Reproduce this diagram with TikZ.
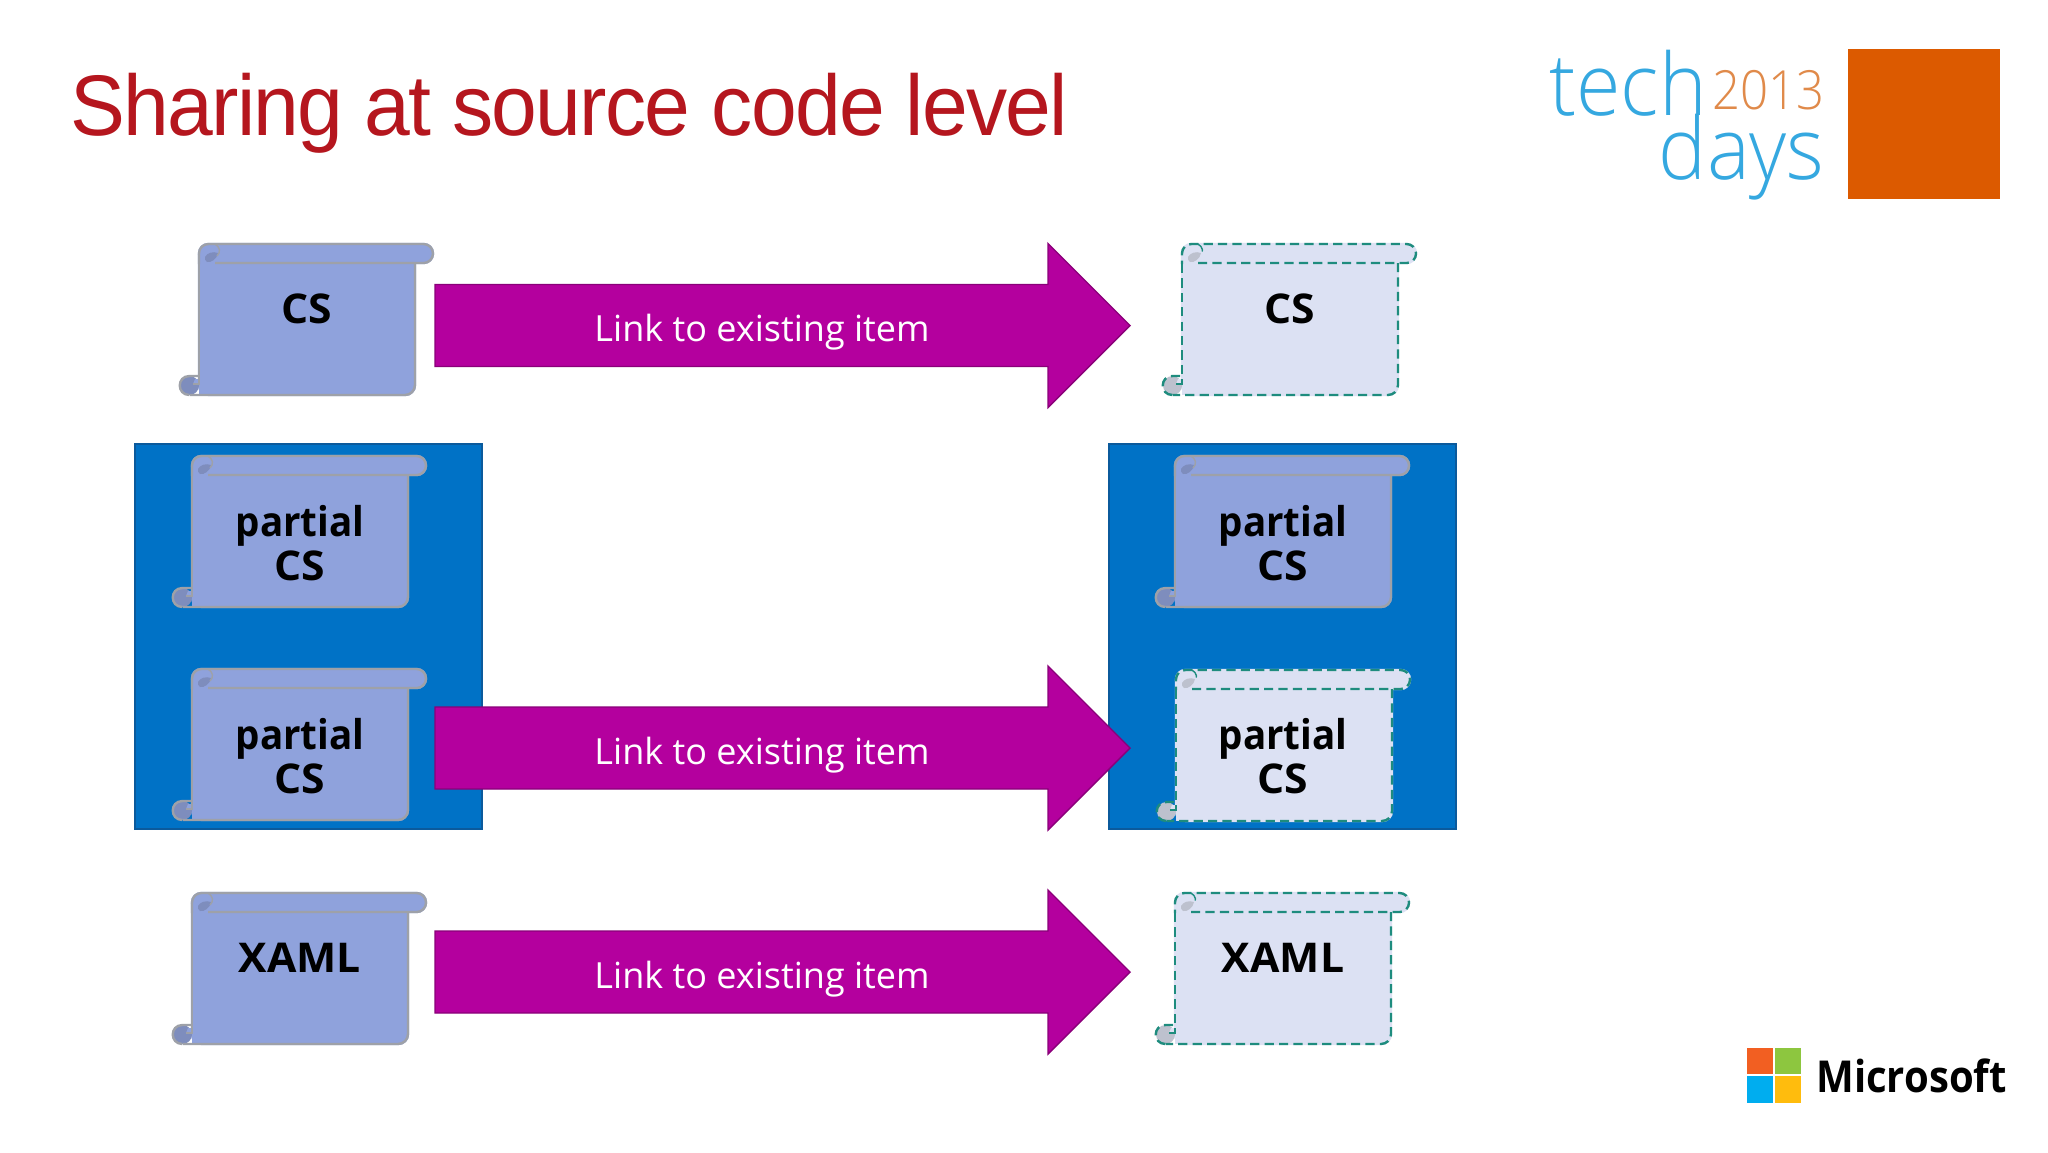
\documentclass[tikz,border=0pt]{standalone}
\usepackage{fontspec}
\setmainfont{Open Sans}
\newfontfamily\titlef[LetterSpace=-2,FakeStretch=.956]{Liberation Sans}
\newfontfamily\techf[FakeStretch=.94]{Open Sans Light}
\newfontfamily\yearf[FakeStretch=.91]{Open Sans Light}
\newfontfamily\semif[FakeStretch=.91]{Open Sans}
\newfontfamily\capsf[FakeStretch=1.04]{Open Sans}
\newfontfamily\partf[FakeStretch=.94]{Open Sans}
\newcommand{\partialword}{{\partf\bfseries partial}}
\definecolor{panelblue}{HTML}{0072C6}
\definecolor{panelline}{HTML}{0B5A9C}
\definecolor{arrowfill}{HTML}{B4009E}
\definecolor{arrowline}{HTML}{8A0079}
\definecolor{scrollsolid}{HTML}{8FA2DC}
\definecolor{scrolllight}{HTML}{DCE1F3}
\definecolor{curlsolid}{HTML}{7E8DBD}
\definecolor{curllight}{HTML}{BDC1CE}
\definecolor{edgegrey}{HTML}{9EA1A8}
\definecolor{edgeteal}{HTML}{1E8C7E}
\definecolor{titlered}{HTML}{B5161E}
\definecolor{techblue}{HTML}{35A8E0}
\definecolor{techorange}{HTML}{E08A4A}
\definecolor{logoorange}{HTML}{DC5A00}
\definecolor{msred}{HTML}{F25F22}
\definecolor{msgreen}{HTML}{8DC63F}
\definecolor{msblue}{HTML}{00ADEF}
\definecolor{msyellow}{HTML}{FFBC0D}
\tikzset{
  x=0.5pt,y=-0.5pt,
  panel/.style={draw=panelline,fill=panelblue,line width=1pt},
  bigarrow/.style={draw=arrowline,fill=arrowfill,line width=.7pt},
  arrowtext/.style={text=white,font=\fontsize{18}{22}\selectfont,anchor=center,inner sep=0pt},
  scrolltext/.style={text=black,font=\fontsize{20.5}{22}\selectfont\capsf\bfseries,align=center,inner sep=0pt,anchor=center},
  solidscroll/.style={/utils/exec={\colorlet{scrollbase}{scrollsolid}\colorlet{scrolledge}{edgegrey}\colorlet{scrollcurl}{curlsolid}},solid},
  copyscroll/.style={/utils/exec={\colorlet{scrollbase}{scrolllight}\colorlet{scrolledge}{edgeteal}\colorlet{scrollcurl}{curllight}},dash pattern=on 4.6pt off 2.6pt},
  scrollline/.style={scrolledge,line width=1.2pt},
  scrollart/.pic={
    \fill[scrollbase,rounded corners=5pt] (0,10) -- (0,151) -- (216,151) -- (216,10) -- cycle;
    \fill[scrollbase] (0,120) rectangle (10,151);
    \fill[scrollbase,rounded corners=4.7pt] (0,0) rectangle (234,19);
    \draw[scrollbase,solid,line width=1.2pt,rounded corners=4.7pt] (0,0) rectangle (234,19);
    \draw[scrollbase,solid,line width=1.2pt,rounded corners=5pt] (0,10) -- (0,151) -- (216,151) -- (216,10);
    \fill[scrollcurl] (-9.5,141.5) circle[radius=9.5];
    \draw[scrollline] (-9.5,151) .. controls (-22.5,151) and (-22.5,132) .. (-9.5,132) -- (0,132);
    \fill[scrollbase] (-6,140) -- (-1,140) -- (-1,135) -- (-4,135) -- cycle;
    \draw[scrollline,line width=.6pt,solid] (-6,140) -- (-1,140);
    \fill[scrollcurl] (6,13) .. controls (8,9) and (14,7) .. (19,9) .. controls (18,15) and (12,19) .. (8,18) .. controls (6,17) and (6,15) .. (6,13);
    \draw[scrollline,rounded corners=4.7pt] (16,19) -- (234,19) -- (234,0) -- (0,0) -- (0,20);
    \draw[scrollline,rounded corners=5pt] (216,19) -- (216,151) -- (-9,151);
    \draw[scrollline] (0,20) -- (0,141);
    \draw[scrollline,line width=.7pt] (16,0) .. controls (21,3) and (22,8) .. (18,12);
  }
}
\begin{document}
\begin{tikzpicture}
\useasboundingbox (0,0) rectangle (2048,1152);
\fill[white] (0,0) rectangle (2048,1152);
% title
\node[anchor=base west,inner sep=0pt,text=titlered,font=\fontsize{43}{48}\selectfont\titlef] (title) at (70,135) {Sharing at source code level};
% logo
\fill[logoorange] (1848,49) rectangle (2000,199);
\node[anchor=base west,inner sep=0pt,text=techblue,font=\fontsize{43}{48}\selectfont\techf] (tech) at (1549,115) {tech};
\node[anchor=base east,inner sep=0pt,text=techblue,font=\fontsize{43}{48}\selectfont\techf] (days) at (1825,179) {days};
\node[anchor=base east,inner sep=0pt,text=techorange,font=\fontsize{27}{30}\selectfont\yearf] (year) at (1825,109) {2013};
\fill[msred] (1747,1048) rectangle (1773,1074);
\fill[msgreen] (1775,1048) rectangle (1801,1074);
\fill[msblue] (1747,1076) rectangle (1773,1103);
\fill[msyellow] (1775,1076) rectangle (1801,1103);
\node[anchor=base west,inner sep=0pt,text=black,font=\fontsize{22}{26}\selectfont\semif\bfseries] (ms) at (1816,1092) {Microsoft};
% panels
\draw[panel] (135,444) rectangle (482,829);
\draw[panel] (1109,444) rectangle (1456,829);
% scrolls
\pic[solidscroll] at (199,244) {scrollart};
\pic[copyscroll] at (1182,244) {scrollart};
\pic[solidscroll] at (192,456) {scrollart};
\pic[solidscroll] at (1175,456) {scrollart};
\pic[solidscroll] at (192,669) {scrollart};
\pic[copyscroll] at (1176,670) {scrollart};
\pic[solidscroll] at (192,893) {scrollart};
\pic[copyscroll] at (1175,893) {scrollart};
\node[scrolltext] (a1) at (307,309) {CS};
\node[scrolltext] (b1) at (1290,309) {CS};
\node[scrolltext] (a2) at (300,543) {\partialword\\CS};
\node[scrolltext] (b2) at (1283,543) {\partialword\\CS};
\node[scrolltext] (a3) at (300,756) {\partialword\\CS};
\node[scrolltext] (b3) at (1283,756) {\partialword\\CS};
\node[scrolltext] (a4) at (300,958) {XAML};
\node[scrolltext] (b4) at (1283,958) {XAML};
% arrows
\foreach \cy/\nm in {325.5/p,748/q,972/r}{
  \draw[bigarrow] (435,\cy-41) -- (1048,\cy-41) -- (1048,\cy-82) -- (1130,\cy) -- (1048,\cy+82) -- (1048,\cy+41) -- (435,\cy+41) -- cycle;
  \node[arrowtext] (lab\nm) at (762,\cy+7) {Link to existing item};
}
\end{tikzpicture}
\end{document}
